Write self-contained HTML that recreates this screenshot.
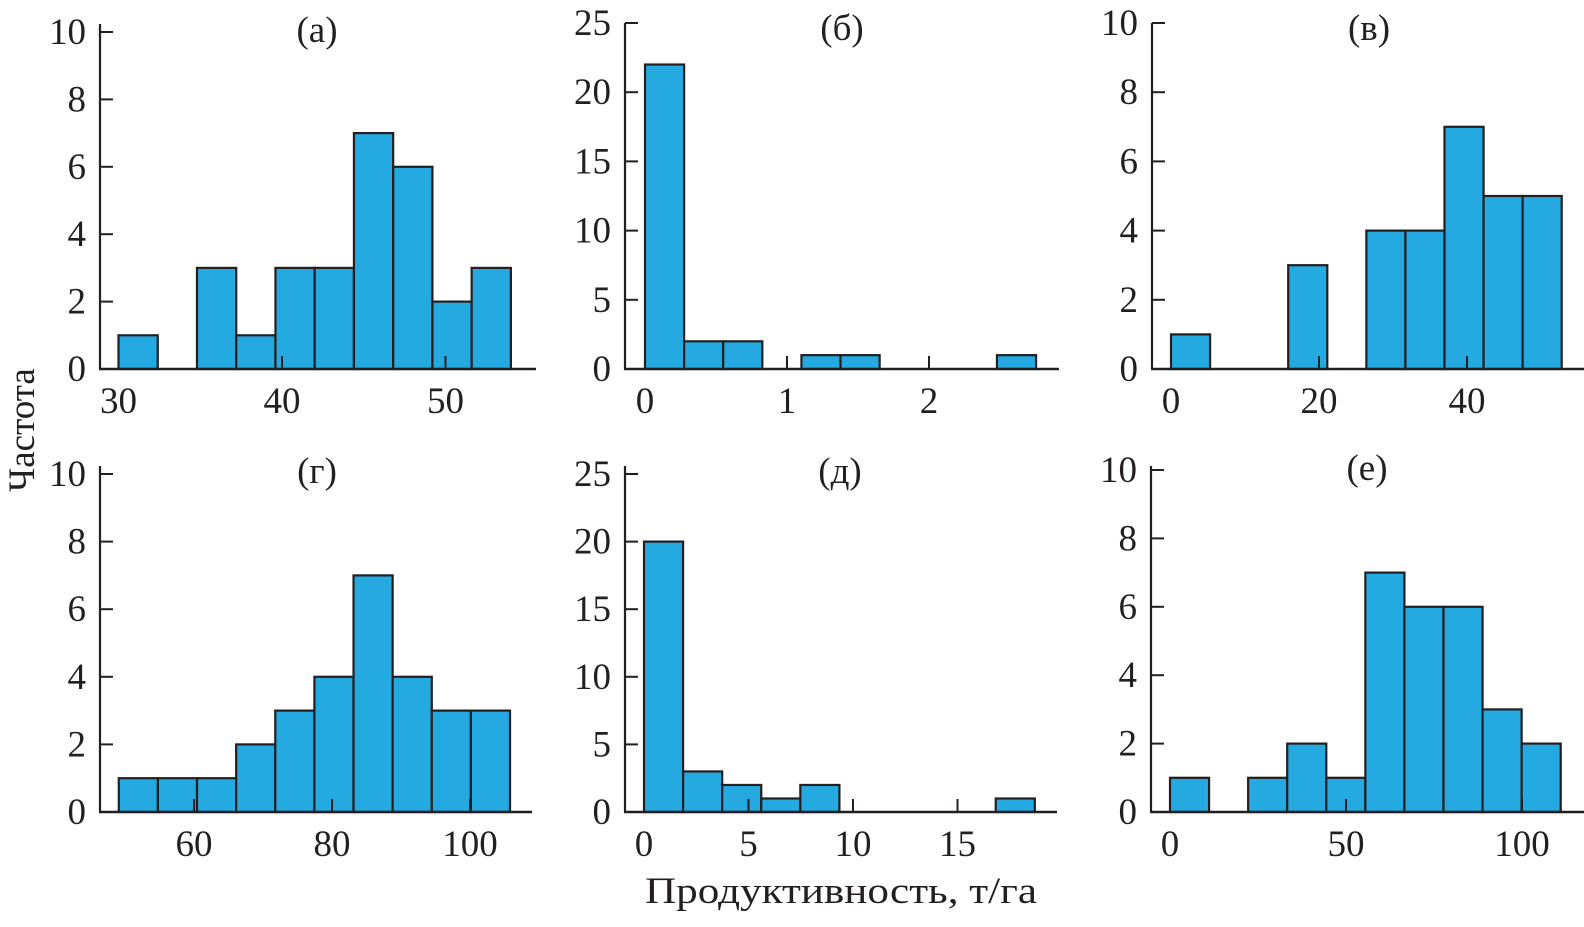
<!DOCTYPE html>
<html><head><meta charset="utf-8">
<style>
html,body{margin:0;padding:0;background:#fff;}
svg, svg text{font-family:"Liberation Serif","Times New Roman",serif;}
</style></head>
<body>
<svg id="chart" width="1584" height="922" viewBox="0 0 1584 922" xmlns="http://www.w3.org/2000/svg">
<text font-family="Liberation Serif, serif" transform="translate(34,430) rotate(-90)" text-anchor="middle" font-size="37" fill="#231f20">Частота</text>
<text font-family="Liberation Serif, serif" x="841" y="903" text-anchor="middle" font-size="37" fill="#231f20" textLength="392" lengthAdjust="spacingAndGlyphs">Продуктивность, т/га</text>
</svg>
<script>
// ---- data ----
const countsA = [1,0,3,1,3,3,7,6,2,3];
const countsB = [22,2,2,0,1,1,0,0,0,1];
const countsC = [1,0,0,3,0,4,4,7,5,5];
const countsG = [1,1,1,2,3,4,7,4,3,3];
const countsD = [20,3,2,1,2,0,0,0,0,1];
const countsE = [1,0,1,2,1,7,6,6,3,2];
const binStartA = 30, binWidthA = 2.4;
const binStartB = 0, binWidthB = 0.2754;
const binStartC = 0, binWidthC = 5.28;
const binStartG = 49.1, binWidthG = 5.67;
const binStartD = 0, binWidthD = 1.87;
const binStartE = 0, binWidthE = 11.1;
const xTicksA = [30,40,50];
const xTicksB = [0,1,2];
const xTicksC = [0,20,40];
const xTicksG = [60,80,100];
const xTicksD = [0,5,10,15];
const xTicksE = [0,50,100];
const yTicks10 = [0,2,4,6,8,10];
const yTicks25 = [0,5,10,15,20,25];
const titles = ["(а)","(б)","(в)","(г)","(д)","(е)"];

// ---- layout (pixels) ----
const panels = [
 {id:'a',counts:countsA,bs:binStartA,bw:binWidthA,xt:xTicksA,yt:yTicks10,ymax:10,ax:100,spineEnd:536,y0:369,yTop:32,axTop:24,xv0:30,xp0:118.5,xs:16.35,tx:317,ty:42},
 {id:'b',counts:countsB,bs:binStartB,bw:binWidthB,xt:xTicksB,yt:yTicks25,ymax:25,ax:625,spineEnd:1059,y0:369,yTop:23,axTop:23,xv0:0,xp0:645,xs:142,tx:842,ty:40},
 {id:'c',counts:countsC,bs:binStartC,bw:binWidthC,xt:xTicksC,yt:yTicks10,ymax:10,ax:1152,spineEnd:1584,y0:369,yTop:23,axTop:23,xv0:0,xp0:1171,xs:7.4,tx:1369,ty:40},
 {id:'g',counts:countsG,bs:binStartG,bw:binWidthG,xt:xTicksG,yt:yTicks10,ymax:10,ax:100,spineEnd:532,y0:812,yTop:474,axTop:466,xv0:60,xp0:194,xs:6.9,tx:317,ty:483},
 {id:'d',counts:countsD,bs:binStartD,bw:binWidthD,xt:xTicksD,yt:yTicks25,ymax:25,ax:625,spineEnd:1057,y0:812,yTop:474,axTop:466,xv0:0,xp0:644,xs:20.9,tx:840,ty:483},
 {id:'e',counts:countsE,bs:binStartE,bw:binWidthE,xt:xTicksE,yt:yTicks10,ymax:10,ax:1151,spineEnd:1584,y0:812,yTop:470,axTop:466,xv0:0,xp0:1170,xs:3.52,tx:1367,ty:480}
];
const NS = "http://www.w3.org/2000/svg";
const svg = document.getElementById('chart');
function mk(tag, attrs, parent){
  const e = document.createElementNS(NS, tag);
  for (const k in attrs) e.setAttribute(k, attrs[k]);
  (parent||svg).appendChild(e);
  return e;
}
const INK = "#231f20";
const FF = "Liberation Serif, Times New Roman, serif";
panels.forEach((p, i) => {
  const g = mk('g', {});
  
  
  const xScale = v => p.xp0 + (v - p.xv0) * p.xs;
  const yScale = v => p.y0 - v / p.ymax * (p.y0 - p.yTop);
  p.counts.forEach((c, k) => {
    if (c <= 0) return;
    const x1 = xScale(p.bs + k * p.bw), x2 = xScale(p.bs + (k + 1) * p.bw);
    const r = mk('rect', {x:x1, y:yScale(c), width:x2 - x1, height:p.y0 - yScale(c), fill:'#24a9e1', stroke:INK, 'stroke-width':2.2}, g);
    
    
  });
  const ya = mk('line', {x1:p.ax, y1:p.axTop, x2:p.ax, y2:p.y0, stroke:INK, 'stroke-width':2.2}, g);
  
  
  const xa = mk('line', {x1:p.ax - 1, y1:p.y0, x2:p.spineEnd, y2:p.y0, stroke:INK, 'stroke-width':2.5}, g);
  
  
  p.yt.forEach(v => {
    const y = yScale(v);
    mk('line', {x1:p.ax, y1:y, x2:p.ax + 13, y2:y, stroke:INK, 'stroke-width':2}, g);
    const t = mk('text', {x:p.ax - 14, y:y + 12, 'text-anchor':'end', 'font-size':37, 'font-family':FF, fill:INK}, g);
    t.textContent = v;
    
    
  });
  p.xt.forEach(v => {
    const x = xScale(v);
    mk('line', {x1:x, y1:p.y0, x2:x, y2:p.y0 - 13, stroke:INK, 'stroke-width':2}, g);
    const t = mk('text', {x:x, y:p.y0 + 44, 'text-anchor':'middle', 'font-size':37, 'font-family':FF, fill:INK}, g);
    t.textContent = v;
    
    
  });
  const tt = mk('text', {x:p.tx, y:p.ty, 'text-anchor':'middle', 'font-size':37, 'font-family':FF, fill:INK}, g);
  tt.textContent = titles[i];
  
  
});
</script>
</body></html>
